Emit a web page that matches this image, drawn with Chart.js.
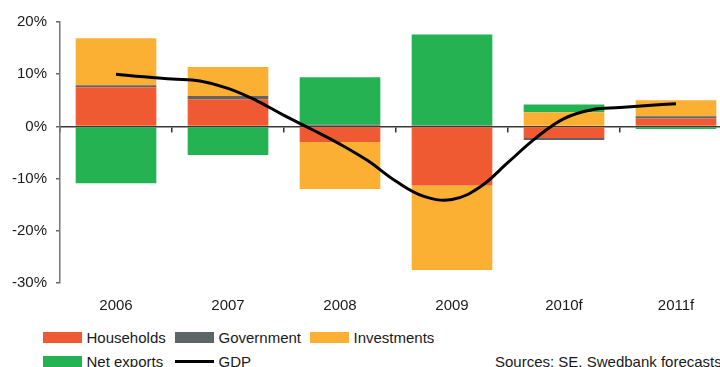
<!DOCTYPE html>
<html>
<head>
<meta charset="utf-8">
<script src="https://cdn.jsdelivr.net/npm/chart.js@4"></script>
<style>
  html, body { margin: 0; padding: 0; background: #fff; }
  #wrap { position: relative; width: 720px; height: 367px; overflow: hidden; font-family: "Liberation Sans", Arial, sans-serif; color: #1a1a1a; }
  #box { position: absolute; left: 0; top: 0; width: 740px; height: 323px; }
  .key { position: absolute; height: 11px; width: 39px; }
  .txt { position: absolute; font-size: 15px; line-height: 17px; white-space: nowrap; }
</style>
</head>
<body>
<div id="wrap">
  <div id="box"><canvas id="growth"></canvas></div>
  <div id="legend"></div>
</div>
<script>
// contributions to GDP growth, percentage points
const years = ['2006', '2007', '2008', '2009', '2010f', '2011f'];
const households = [7.5, 5.2, -3.0, -11.3, -2.2, 1.5];
const government = [0.4, 0.6, 0.3, 0.2, -0.4, 0.45];
const investments = [9.0, 5.6, -9.0, -16.2, 2.7, 3.05];
const netExports = [-10.9, -5.5, 9.1, 17.4, 1.5, -0.5];

// GDP growth, quarterly readings from 2006 to 2011f
const gdp = [10.0, 9.5, 9.1, 8.7, 7.3, 5.0, 2.1, -0.6, -3.4, -6.6, -10.5,
             -13.4, -14.0, -11.6, -6.9, -2.2, 1.5, 3.2, 3.6, 4.0, 4.35];

const yTicks = [20, 10, 0, -10, -20, -30];

const colors = {
  households: '#F05A32',
  government: '#5E6567',
  investments: '#FBB034',
  netExports: '#25B252'
};

const font = { family: '"Liberation Sans", Arial, sans-serif', size: 15 };

function bar(label, data, color) {
  return {
    type: 'bar', label, data,
    backgroundColor: color,
    grouped: false,
    barPercentage: 0.72,
    categoryPercentage: 1.0,
    xAxisID: 'x', yAxisID: 'y'
  };
}

const ctx = document.getElementById('growth').getContext('2d');
new Chart(ctx, {
  data: {
    labels: years,
    datasets: [
      bar('Households', households, colors.households),
      bar('Government', government, colors.government),
      bar('Investments', investments, colors.investments),
      bar('Net exports', netExports, colors.netExports),
      {
        type: 'line', label: 'GDP',
        data: gdp.map((v, i) => ({ x: i / 4, y: v })),
        borderColor: '#000', borderWidth: 3,
        pointRadius: 0, tension: 0.4,
        stack: 'gdp', order: -1,
        xAxisID: 'xq', yAxisID: 'y'
      }
    ]
  },
  options: {
    responsive: true,
    maintainAspectRatio: false,
    animation: false,
    layout: { padding: { left: 0, right: 8, top: 22, bottom: 0 } },
    plugins: { legend: { display: false }, tooltip: { enabled: false } },
    scales: {
      x: {
        stacked: true,
        offset: true,
        grid: { display: false },
        border: { display: false },
        ticks: { font, color: '#1a1a1a', padding: 6, maxRotation: 0 },
        afterFit: s => { s.height = 40; }
      },
      // zero line with category tick marks
      x0: {
        type: 'category',
        labels: years,
        position: { y: 0 },
        offset: true,
        z: 1,
        grid: { drawOnChartArea: false, offset: true, tickLength: 5, color: '#333', lineWidth: 1.5 },
        border: { color: '#3a3a3a', width: 1.5 },
        ticks: { display: false },
        afterFit: s => { s.height = 0; }
      },
      xq: { type: 'linear', display: false, min: -0.5, max: 5.5 },
      y: {
        stacked: true,
        min: -30, max: 20,
        afterBuildTicks: s => { s.ticks = yTicks.map(v => ({ value: v })); },
        grid: { drawOnChartArea: false, tickLength: 4, color: '#666', lineWidth: 1.5 },
        border: { color: '#777', width: 1.5 },
        ticks: { font, color: '#1a1a1a', padding: 9, callback: v => v + '%' },
        afterFit: s => { s.width = 60; }
      }
    }
  }
});

// legend laid out in two rows under the plot
const legendItems = [
  { label: 'Households', color: colors.households, x: 43, row: 0 },
  { label: 'Government', color: colors.government, x: 175, row: 0 },
  { label: 'Investments', color: colors.investments, x: 310, row: 0 },
  { label: 'Net exports', color: colors.netExports, x: 43, row: 1 },
  { label: 'GDP', line: true, x: 175, row: 1 }
];
const legend = document.getElementById('legend');
legendItems.forEach(item => {
  const top = 332 + item.row * 24;
  const key = document.createElement('div');
  key.className = 'key';
  key.style.left = item.x + 'px';
  if (item.line) {
    key.style.top = (top + 4) + 'px';
    key.style.height = '3px';
    key.style.background = '#000';
  } else {
    key.style.top = top + 'px';
    key.style.background = item.color;
  }
  legend.appendChild(key);
  const txt = document.createElement('div');
  txt.className = 'txt';
  txt.style.left = (item.x + 43.5) + 'px';
  txt.style.top = (top - 3.5) + 'px';
  txt.textContent = item.label;
  legend.appendChild(txt);
});
const src = document.createElement('div');
src.className = 'txt';
src.style.left = '495px';
src.style.top = '352.5px';
src.textContent = 'Sources: SE. Swedbank forecasts';
legend.appendChild(src);
</script>
</body>
</html>
